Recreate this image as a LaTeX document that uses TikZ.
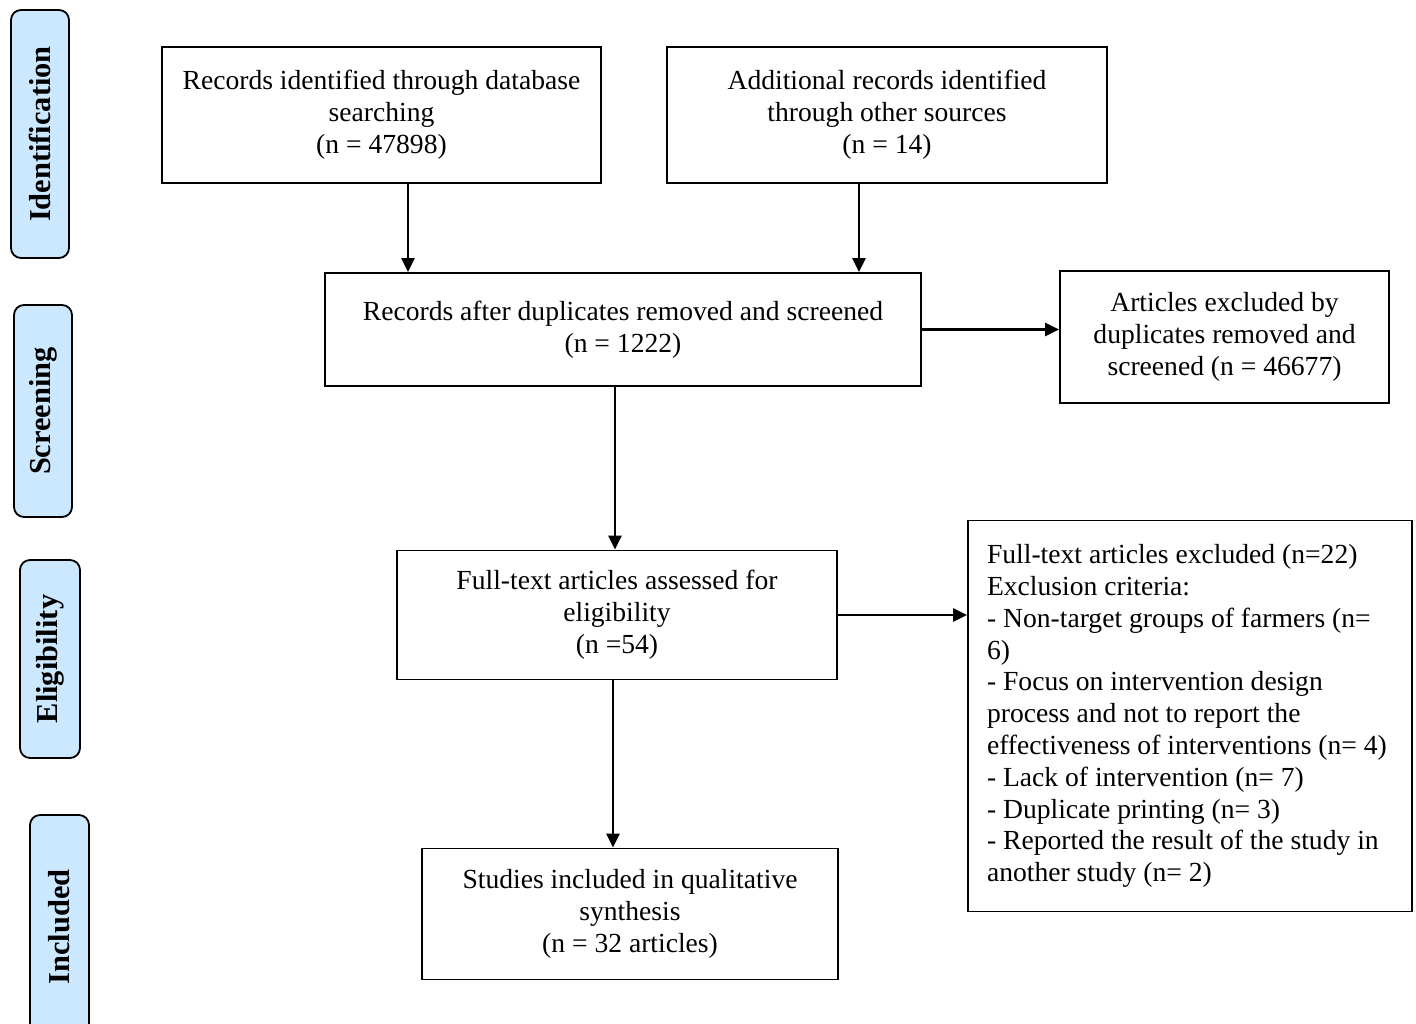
\documentclass[tikz,border=0pt]{standalone}
\usepackage{fontspec}
\setmainfont{Liberation Serif}
\usepackage{tikz}
\usetikzlibrary{arrows.meta,positioning}
\definecolor{stageblue}{RGB}{204,232,255}

\begin{document}
\begin{tikzpicture}[x=0.5pt,y=-0.5pt,font=\fontsize{13.8}{15.9}\selectfont,
   box/.style={draw,line width=0.9pt,inner sep=0pt,align=center},
   stage/.style={draw,line width=0.9pt,rounded corners=5pt,fill=stageblue,inner sep=0pt,
                 font=\fontsize{15.2}{16}\selectfont\bfseries},
   arr/.style={-{Triangle[length=7pt,width=6.5pt]},line width=1.4pt}]
  \clip (0,0) rectangle (1416,1023);
  % phase labels
  \node[stage,minimum width=29pt,minimum height=124pt] (ident) at (40,134) {\rotatebox{90}{Identification}};
  \node[stage,minimum width=29pt,minimum height=106pt] (screen) at (43,411) {\rotatebox{90}{Screening}};
  \node[stage,minimum width=30pt,minimum height=99pt] (elig) at (50,659) {\rotatebox{90}{Eligibility}};
  \node[stage,minimum width=29.5pt,minimum height=112pt] (incl) at (59.5,927) {\rotatebox{90}{Included}};
  % flow boxes
  \node[box,minimum width=219.5pt,minimum height=68pt] (db) at (381.5,115)
     {Records identified through database\\searching\\(n = 47898)};
  \node[box,minimum width=220pt,minimum height=68pt] (other) at (887,115)
     {Additional records identified\\through other sources\\(n = 14)};
  \node[box,minimum width=298pt,minimum height=56.5pt] (dedup) at (623,329.5)
     {Records after duplicates removed and screened\\(n = 1222)};
  \node[box,minimum width=164.5pt,minimum height=66pt] (dupex) at (1224.5,337)
     {Articles excluded by\\duplicates removed and\\screened (n = 46677)};
  \node[box,minimum width=220pt,minimum height=64.5pt] (full) at (617,615)
     {Full-text articles assessed for\\eligibility\\(n =54)};
  \node[box,minimum width=222pt,minimum height=195.5pt,text width=203pt,inner xsep=9.5pt,align=flush left] (fullex) at (1190,716)
     {Full-text articles excluded (n=22)\\Exclusion criteria:\\- Non-target groups of farmers (n=\\6)\\- Focus on intervention design\\process and not to report the\\effectiveness of interventions (n= 4)\\- Lack of intervention (n= 7)\\- Duplicate printing (n= 3)\\- Reported the result of the study in\\another study (n= 2)};
  \node[box,minimum width=208pt,minimum height=65.5pt] (incbox) at (630,914)
     {Studies included in qualitative\\synthesis\\(n = 32 articles)};
  % connectors
  \draw[arr] (db.south -| 408,0) -- (dedup.north -| 408,0);
  \draw[arr] (other.south -| 859,0) -- (dedup.north -| 859,0);
  \draw[arr] (dedup.east) -- (dupex.west |- dedup.east);
  \draw[arr] (dedup.south -| 615,0) -- (full.north -| 615,0);
  \draw[arr] (full.east) -- (fullex.west |- full.east);
  \draw[arr] (full.south -| 613,0) -- (incbox.north -| 613,0);
\end{tikzpicture}
\end{document}
